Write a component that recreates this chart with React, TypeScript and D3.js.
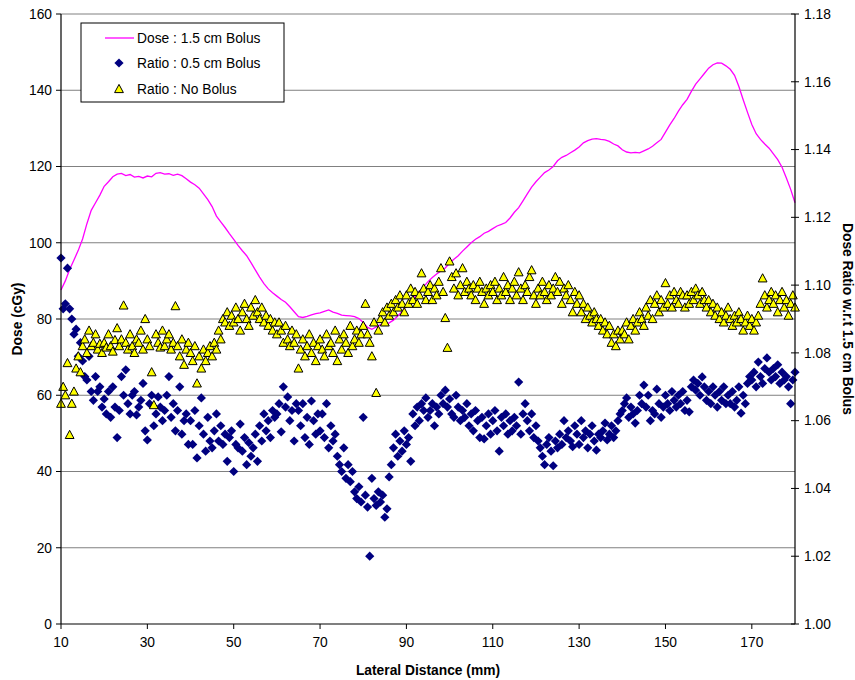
import React from "react";
import * as d3 from "d3";

// ---------- DATA ----------
const xTicks = [10, 30, 50, 70, 90, 110, 130, 150, 170];
const leftTicks = [0, 20, 40, 60, 80, 100, 120, 140, 160];
const rightTicks = [1.0, 1.02, 1.04, 1.06, 1.08, 1.1, 1.12, 1.14, 1.16, 1.18];

// Dose : 1.5 cm Bolus, sampled every 1 mm from 10 to 180 mm
const doseStart = 10;
const doseStep = 1;
const dose15 = [
  87.6, 90, 93, 95.5, 98, 101, 105, 108.5, 110.5, 112.5,
  114.8, 116, 117.3, 118, 118.2, 117.6, 117.9, 117.2, 117.4, 117,
  117.5, 117.3, 118.2, 118.4, 118, 118.1, 117.7, 118, 117.6, 116.8,
  115.9, 115.2, 114.3, 112.8, 111.3, 109.5, 107, 105.5, 104, 102.4,
  100.9, 99.3, 97.9, 96.6, 94.8, 92.9, 91, 89.3, 87.9, 86.9,
  86, 85.1, 84.4, 83.2, 81.9, 80.6, 80.4, 80.7, 81.1, 81.4,
  81.6, 82, 82.4, 81.8, 81.5, 81, 80.9, 80.8, 80.6, 80.1,
  79.1, 77.8, 77.3, 77.9, 78.5, 78.6, 79, 79.7, 80.8, 82,
  83.3, 84.6, 85.9, 87.2, 88.5, 89.8, 90.9, 91.8, 92.6, 93.4,
  94.7, 95.7, 96.6, 97.8, 98.9, 100, 100.9, 101.6, 102.5, 103,
  103.7, 104.4, 104.8, 105.3, 106.5, 108, 109.2, 111, 112.8, 114.6,
  116, 117.2, 118.4, 119.1, 120, 121.5, 122.4, 122.9, 123.6, 124.3,
  125.1, 126.2, 126.8, 127.2, 127.3, 127.1, 127, 126.6, 125.9, 125.4,
  124.4, 123.8, 123.6, 123.7, 123.6, 124.1, 124.6, 125.3, 126.2, 127.1,
  129, 130.9, 132.6, 134.5, 136.2, 137.6, 139.7, 141.6, 143, 144.4,
  145.8, 146.7, 147.2, 147.1, 146.4, 145.5, 143.9, 141, 137.5, 134.2,
  131, 128.6, 127.1, 125.9, 124.8, 123.3, 121.8, 119.8, 117, 114, 110.5,
];

// Ratios, sampled every 0.5 mm from 10 to 180 mm
const ratioStart = 10;
const ratioStep = 0.5;
const ratio05 = [
  1.108, 1.093, 1.0945, 1.105, 1.093, 1.090, 1.0855, 1.087, 1.079, 1.083,
  1.0776, 1.073, 1.072, 1.079, 1.0686, 1.066, 1.073, 1.0686, 1.070, 1.064,
  1.0664, 1.062, 1.0686, 1.061, 1.070, 1.064, 1.055, 1.063, 1.073, 1.0675,
  1.075, 1.065, 1.062, 1.0675, 1.0686, 1.0617, 1.064, 1.066, 1.071, 1.057,
  1.0543, 1.065, 1.0675, 1.0585, 1.062, 1.067, 1.064, 1.060, 1.063, 1.0675,
  1.073, 1.061, 1.065, 1.057, 1.063, 1.070, 1.056, 1.060, 1.062, 1.053,
  1.060, 1.053, 1.063, 1.049, 1.0585, 1.0667, 1.056, 1.051, 1.061, 1.054,
  1.052, 1.057, 1.062, 1.054, 1.0585, 1.053, 1.056, 1.048, 1.055, 1.057,
  1.045, 1.053, 1.052, 1.059, 1.051, 1.055, 1.047, 1.0535, 1.0495, 1.052,
  1.056, 1.048, 1.0585, 1.054, 1.062, 1.057, 1.060, 1.055, 1.063, 1.061,
  1.062, 1.065, 1.0567, 1.070, 1.064, 1.067, 1.060, 1.063, 1.054, 1.065,
  1.063, 1.0585, 1.065, 1.055, 1.061, 1.053, 1.0658, 1.060, 1.056, 1.062,
  1.057, 1.062, 1.055, 1.065, 1.052, 1.0585, 1.054, 1.056, 1.0495, 1.047,
  1.045, 1.052, 1.043, 1.047, 1.042, 1.045, 1.039, 1.037, 1.0405, 1.036,
  1.061, 1.038, 1.0345, 1.020, 1.043, 1.037, 1.035, 1.039, 1.036, 1.038,
  1.0315, 1.034, 1.0434, 1.047, 1.052, 1.056, 1.0495, 1.054, 1.051, 1.057,
  1.053, 1.055, 1.048, 1.062, 1.0585, 1.064, 1.060, 1.065, 1.063, 1.0667,
  1.061, 1.063, 1.065, 1.0585, 1.064, 1.062, 1.0675, 1.065, 1.069, 1.064,
  1.0664, 1.062, 1.061, 1.0675, 1.064, 1.060, 1.063, 1.061, 1.065, 1.0585,
  1.062, 1.057, 1.063, 1.060, 1.055, 1.061, 1.0546, 1.0585, 1.062, 1.056,
  1.060, 1.063, 1.057, 1.051, 1.061, 1.0585, 1.062, 1.056, 1.060, 1.057,
  1.061, 1.0585, 1.0714, 1.056, 1.062, 1.065, 1.060, 1.057, 1.062, 1.055,
  1.0585, 1.054, 1.052, 1.0495, 1.047, 1.053, 1.055, 1.051, 1.0467, 1.054,
  1.052, 1.056, 1.053, 1.060, 1.055, 1.057, 1.054, 1.0523, 1.0585, 1.056,
  1.053, 1.060, 1.055, 1.057, 1.052, 1.056, 1.0585, 1.054, 1.0513, 1.056,
  1.055, 1.057, 1.0593, 1.0543, 1.056, 1.0585, 1.055, 1.057, 1.060, 1.062,
  1.063, 1.065, 1.0667, 1.061, 1.064, 1.062, 1.0593, 1.063, 1.0675, 1.065,
  1.0705, 1.064, 1.0675, 1.060, 1.063, 1.062, 1.0693, 1.065, 1.061, 1.064,
  1.0675, 1.065, 1.063, 1.0686, 1.066, 1.064, 1.0675, 1.065, 1.0686, 1.063,
  1.066, 1.0626, 1.070, 1.072, 1.069, 1.071, 1.0675, 1.0729, 1.070, 1.066,
  1.0686, 1.065, 1.070, 1.0675, 1.064, 1.0686, 1.066, 1.070, 1.065, 1.0675,
  1.065, 1.0686, 1.064, 1.066, 1.070, 1.0622, 1.0675, 1.065, 1.071, 1.073,
  1.072, 1.0743, 1.070, 1.0773, 1.073, 1.071, 1.0754, 1.0785, 1.0743, 1.072,
  1.0754, 1.073, 1.0765, 1.071, 1.0743, 1.072, 1.073, 1.070, 1.065, 1.072, 1.0743,
];

const ratioNo = [
  1.065, 1.070, 1.0675, 1.077, 1.0558, 1.065, 1.0686, 1.0754, 1.079, 1.0743,
  1.082, 1.084, 1.080, 1.0866, 1.082, 1.083, 1.0855, 1.081, 1.0827, 1.080,
  1.083, 1.0816, 1.0855, 1.082, 1.0804, 1.0838, 1.0873, 1.082, 1.084, 1.094,
  1.083, 1.081, 1.0855, 1.082, 1.080, 1.084, 1.083, 1.0866, 1.081, 1.090,
  1.084, 1.082, 1.0743, 1.0646, 1.0855, 1.083, 1.0816, 1.0866, 1.082, 1.084,
  1.0855, 1.081, 1.083, 1.0938, 1.082, 1.079, 1.084, 1.0765, 1.081, 1.083,
  1.080, 1.0776, 1.082, 1.071, 1.079, 1.0754, 1.081, 1.0776, 1.080, 1.082,
  1.079, 1.083, 1.081, 1.0866, 1.084, 1.090, 1.089, 1.092, 1.088, 1.091,
  1.089, 1.0934, 1.090, 1.0866, 1.092, 1.0945, 1.090, 1.088, 1.0934, 1.091,
  1.0956, 1.092, 1.090, 1.0934, 1.089, 1.091, 1.088, 1.090, 1.0866, 1.089,
  1.0855, 1.089, 1.0866, 1.083, 1.088, 1.084, 1.082, 1.0866, 1.083, 1.0855,
  1.0754, 1.081, 1.084, 1.079, 1.082, 1.0855, 1.080, 1.083, 1.0776, 1.082,
  1.084, 1.081, 1.079, 1.0855, 1.082, 1.083, 1.080, 1.0866, 1.0776, 1.084,
  1.081, 1.0855, 1.083, 1.080, 1.088, 1.082, 1.084, 1.0866, 1.083, 1.0855,
  1.088, 1.0945, 1.0855, 1.083, 1.079, 1.089, 1.0682, 1.0866, 1.090, 1.092,
  1.089, 1.0934, 1.091, 1.0945, 1.092, 1.0956, 1.0934, 1.097, 1.0945, 1.092,
  1.097, 1.0945, 1.099, 1.0956, 1.098, 1.0945, 1.097, 1.1035, 1.099, 1.0956,
  1.098, 1.100, 1.0956, 1.099, 1.097, 1.101, 1.105, 1.098, 1.0903, 1.0815,
  1.107, 1.1024, 1.099, 1.1035, 1.097, 1.100, 1.105, 1.098, 1.101, 1.099,
  1.097, 1.100, 1.0956, 1.099, 1.101, 1.098, 1.0945, 1.099, 1.097, 1.100,
  1.098, 1.101, 1.0956, 1.099, 1.097, 1.1024, 1.098, 1.100, 1.0956, 1.099,
  1.101, 1.097, 1.1038, 1.099, 1.0956, 1.100, 1.098, 1.1024, 1.1044, 1.097,
  1.0945, 1.099, 1.097, 1.101, 1.098, 1.0956, 1.100, 1.097, 1.099, 1.1024,
  1.098, 1.101, 1.0945, 1.099, 1.097, 1.100, 1.0956, 1.092, 1.098, 1.0945,
  1.097, 1.092, 1.0945, 1.090, 1.0934, 1.091, 1.089, 1.092, 1.090, 1.088,
  1.090, 1.0866, 1.089, 1.0855, 1.088, 1.083, 1.0855, 1.082, 1.0866, 1.084,
  1.0866, 1.0855, 1.089, 1.084, 1.088, 1.090, 1.0866, 1.089, 1.092, 1.090,
  1.088, 1.0934, 1.091, 1.0956, 1.090, 1.0945, 1.097, 1.092, 1.0956, 1.0934,
  1.1006, 1.0945, 1.097, 1.0934, 1.098, 1.0956, 1.0945, 1.098, 1.097, 1.0934,
  1.097, 1.0945, 1.098, 1.0956, 1.099, 1.097, 1.0945, 1.098, 1.0956, 1.0934,
  1.0956, 1.092, 1.0945, 1.091, 1.0934, 1.090, 1.092, 1.089, 1.091, 1.0934,
  1.090, 1.088, 1.091, 1.089, 1.092, 1.090, 1.0866, 1.089, 1.091, 1.088,
  1.090, 1.0866, 1.089, 1.091, 1.0945, 1.102, 1.097, 1.0934, 1.0956, 1.098,
  1.0945, 1.097, 1.092, 1.0956, 1.098, 1.0934, 1.0956, 1.091, 1.0945, 1.097, 1.0934,
];

const legendLabels = ["Dose : 1.5 cm Bolus", "Ratio : 0.5 cm Bolus", "Ratio : No Bolus"];

// ---------- LAYOUT ----------
const W = 855;
const H = 680;
const M = { left: 61, right: 795, top: 14, bottom: 624 };
const FONT = "'Liberation Sans', Arial, sans-serif";
const FS = 13.8;
const MAGENTA = "#FF00FF";
const NAVY = "#000080";
const YELLOW = "#FFFF00";

const diamond = "M0,-4.6L4.6,0L0,4.6L-4.6,0Z";
const triangle = "M0,-4.6L4.4,3.6L-4.4,3.6Z";

export default function App() {
  const x = d3.scaleLinear().domain([10, 180]).range([M.left, M.right]);
  const yL = d3.scaleLinear().domain([0, 160]).range([M.bottom, M.top]);
  const yR = d3.scaleLinear().domain([1.0, 1.18]).range([M.bottom, M.top]);

  const doseData = dose15.map((v, i) => [doseStart + i * doseStep, v] as [number, number]);
  const r05Data = ratio05.map((v, i) => [ratioStart + i * ratioStep, v] as [number, number]);
  const rNoData = ratioNo.map((v, i) => [ratioStart + i * ratioStep, v] as [number, number]);

  const line = d3
    .line<[number, number]>()
    .x((d) => x(d[0]))
    .y((d) => yL(d[1]))
    .curve(d3.curveLinear);

  return (
    <svg
      width={W}
      height={H}
      style={{ position: "absolute", left: 0, top: 0, background: "#fff" }}
      fontFamily={FONT}
    >
      <rect x={0} y={0} width={W} height={H} fill="#fff" />
      {/* gridlines */}
      {leftTicks.filter((t) => t > 0).map((t) => (
        <line key={"g" + t} x1={M.left} x2={M.right} y1={yL(t)} y2={yL(t)} stroke="#808080" strokeWidth={1} />
      ))}

      {/* dose line */}
      <path d={line(doseData) || ""} fill="none" stroke={MAGENTA} strokeWidth={1.3} />

      {/* diamonds */}
      {r05Data.map((d, i) => (
        <path key={"d" + i} d={diamond} transform={`translate(${x(d[0])},${yR(d[1])})`} fill={NAVY} />
      ))}
      {/* triangles */}
      {rNoData.map((d, i) => (
        <path
          key={"t" + i}
          d={triangle}
          transform={`translate(${x(d[0])},${yR(d[1])})`}
          fill={YELLOW}
          stroke="#000"
          strokeWidth={1}
        />
      ))}

      {/* axes lines */}
      <line x1={M.left} x2={M.left} y1={M.top} y2={M.bottom} stroke="#000" strokeWidth={1.2} />
      <line x1={M.right} x2={M.right} y1={M.top} y2={M.bottom} stroke="#000" strokeWidth={1.2} />
      <line x1={M.left} x2={M.right} y1={M.bottom} y2={M.bottom} stroke="#000" strokeWidth={1.2} />

      {/* left ticks */}
      {leftTicks.map((t) => (
        <g key={"l" + t}>
          <line x1={M.left - 5} x2={M.left} y1={yL(t)} y2={yL(t)} stroke="#000" />
          <text x={M.left - 9} y={yL(t)} dy="0.35em" textAnchor="end" fontSize={FS}>
            {t}
          </text>
        </g>
      ))}
      {/* right ticks */}
      {rightTicks.map((t) => (
        <g key={"r" + t}>
          <line x1={M.right - 4} x2={M.right + 4} y1={yR(t)} y2={yR(t)} stroke="#000" />
          <text x={M.right + 9} y={yR(t)} dy="0.35em" textAnchor="start" fontSize={FS}>
            {t.toFixed(2)}
          </text>
        </g>
      ))}
      {/* x ticks */}
      {xTicks.map((t) => (
        <g key={"x" + t}>
          <line x1={x(t)} x2={x(t)} y1={M.bottom} y2={M.bottom + 5} stroke="#000" />
          <text x={x(t)} y={M.bottom + 23} textAnchor="middle" fontSize={FS}>
            {t}
          </text>
        </g>
      ))}

      {/* axis titles */}
      <text
        transform={`translate(22,${(M.top + M.bottom) / 2}) rotate(-90)`}
        textAnchor="middle"
        fontSize={FS}
        fontWeight="bold"
      >
        Dose (cGy)
      </text>
      <text
        transform={`translate(843,${(M.top + M.bottom) / 2}) rotate(90)`}
        textAnchor="middle"
        fontSize={FS}
        fontWeight="bold"
      >
        Dose Ratio w.r.t 1.5 cm Bolus
      </text>
      <text x={(M.left + M.right) / 2} y={675} textAnchor="middle" fontSize={FS} fontWeight="bold">
        Lateral Distance (mm)
      </text>

      {/* legend */}
      <g>
        <rect x={81} y={23} width={203} height={79} fill="#fff" stroke="#000" strokeWidth={1} />
        <line x1={105} x2={134} y1={38} y2={38} stroke={MAGENTA} strokeWidth={1.3} />
        <path d={diamond} transform="translate(119,63)" fill={NAVY} />
        <path d={triangle} transform="translate(119,89)" fill={YELLOW} stroke="#000" strokeWidth={1} />
        {legendLabels.map((l, i) => (
          <text key={l} x={137} y={[38, 63, 89][i]} dy="0.35em" fontSize={FS}>
            {l}
          </text>
        ))}
      </g>
    </svg>
  );
}
